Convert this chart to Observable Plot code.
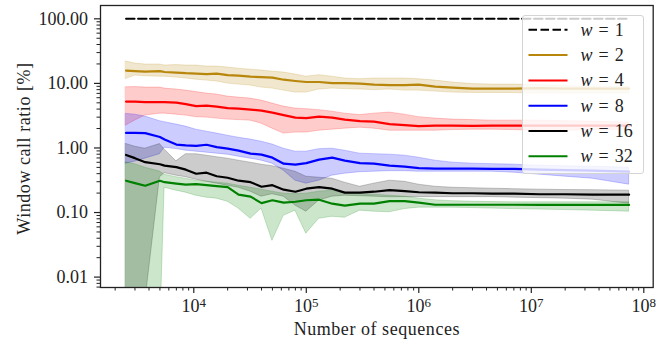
<!DOCTYPE html>
<html><head><meta charset="utf-8">
<script src="https://cdn.jsdelivr.net/npm/d3@7"></script>
<script src="https://cdn.jsdelivr.net/npm/@observablehq/plot@0.6"></script>
<style>
html,body{margin:0;padding:0;background:#fff;}
#wrap{position:relative;width:664px;height:339px;font-family:"Liberation Serif",serif;}
#legend{position:absolute;left:521.5px;top:15px;width:122px;height:158.5px;box-sizing:border-box;background:rgba(255,255,255,0.8);border:1px solid #d4d4d4;border-radius:3px;}
</style></head><body><div id="wrap"></div>
<script>
// Number of sequences (x positions of the sampled points)
const xs = [2500, 3000, 3700, 5000, 5500, 7000, 8500, 10500, 13000, 16000, 20000, 25000, 32000, 40000, 50000, 63000, 80000, 100000, 130000, 170000, 220000, 300000, 400000, 550000, 750000, 1000000, 1400000, 2000000, 3000000, 4500000, 7000000, 12000000, 20000000, 35000000, 74000000];

// w = 1 (constant 100 %)
const w1X = [2500, 74000000];
const w1Y = [100, 100];

// w = 2
const w2 = [15.8, 15.5, 15.2, 15.5, 15.0, 14.7, 14.4, 14.2, 13.9, 14.2, 13.4, 13.2, 12.7, 12.5, 12.3, 11.4, 10.9, 10.5, 10.5, 10.1, 10.1, 9.93, 9.58, 9.41, 9.41, 9.58, 8.92, 8.61, 8.31, 8.31, 8.31, 8.46, 8.31, 8.31, 8.31];
const w2Hi = [21.8, 20.3, 19.6, 19.6, 18.9, 19.2, 18.9, 18.9, 18.2, 18.2, 17.6, 16.9, 16.3, 15.8, 15.2, 14.7, 13.7, 12.7, 13.4, 12.7, 11.9, 11.6, 11.9, 11.9, 11.9, 11.6, 11.05, 10.3, 9.75, 9.58, 9.58, 9.41, 9.08, 8.75, 8.75];
const w2Lo = [11.7, 13.2, 12.9, 12.7, 12.7, 12.3, 11.9, 11.4, 11.05, 10.7, 9.93, 9.58, 9.25, 8.61, 8.31, 7.73, 7.2, 7.2, 8.02, 8.31, 8.16, 8.02, 7.87, 8.02, 7.73, 7.73, 7.46, 7.2, 7.12, 7.12, 7.07, 6.95, 6.95, 6.95, 6.95];

// w = 4
const w4 = [5.22, 5.22, 5.13, 5.13, 5.13, 5.04, 4.78, 4.45, 4.53, 4.37, 4.14, 4.07, 3.92, 3.79, 3.53, 3.23, 2.95, 2.90, 3.06, 2.95, 2.75, 2.60, 2.56, 2.34, 2.26, 2.18, 2.22, 2.22, 2.20, 2.22, 2.21, 2.22, 2.22, 2.21, 2.22];
const w4Hi = [8.70, 8.76, 8.61, 8.61, 8.31, 8.02, 7.73, 7.33, 6.95, 6.71, 6.24, 6.02, 5.81, 5.41, 4.86, 4.37, 4.07, 3.99, 3.85, 3.65, 3.40, 3.23, 3.40, 3.53, 3.28, 3.00, 2.85, 2.75, 2.70, 2.65, 2.65, 2.65, 2.60, 2.56, 2.47];
const w4Lo = [2.22, 2.65, 3.17, 3.40, 3.40, 3.28, 3.17, 3.00, 2.95, 2.85, 2.75, 2.70, 2.65, 2.38, 1.99, 1.67, 1.73, 1.73, 1.85, 1.92, 1.99, 2.06, 1.99, 1.85, 1.85, 1.85, 1.85, 1.89, 1.92, 1.92, 1.89, 1.85, 1.85, 1.89, 1.92];

// w = 8
const w8 = [1.71, 1.71, 1.70, 1.48, 1.35, 1.13, 1.10, 1.08, 1.12, 1.03, 0.975, 0.908, 0.816, 0.787, 0.707, 0.571, 0.551, 0.581, 0.659, 0.707, 0.636, 0.581, 0.571, 0.532, 0.513, 0.486, 0.478, 0.478, 0.478, 0.473, 0.473, 0.461, 0.453, 0.445, 0.429];
const w8Hi = [3.37, 3.28, 3.06, 2.60, 2.51, 2.30, 2.14, 1.92, 1.79, 1.67, 1.55, 1.44, 1.35, 1.25, 1.13, 0.975, 0.876, 0.876, 0.958, 0.975, 0.908, 0.816, 0.802, 0.787, 0.760, 0.707, 0.636, 0.592, 0.571, 0.561, 0.551, 0.532, 0.522, 0.513, 0.495];
const w8Lo = [0.571, 0.613, 0.683, 0.800, 1.01, 0.96, 0.908, 0.876, 0.846, 0.816, 0.787, 0.733, 0.683, 0.636, 0.571, 0.445, 0.311, 0.280, 0.311, 0.372, 0.399, 0.421, 0.429, 0.437, 0.437, 0.429, 0.429, 0.429, 0.429, 0.429, 0.414, 0.385, 0.359, 0.334, 0.270];

// w = 16
const w16 = [0.779, 0.695, 0.602, 0.560, 0.532, 0.504, 0.461, 0.399, 0.414, 0.365, 0.346, 0.311, 0.295, 0.251, 0.265, 0.226, 0.210, 0.234, 0.247, 0.234, 0.203, 0.203, 0.210, 0.222, 0.214, 0.206, 0.203, 0.199, 0.199, 0.196, 0.196, 0.192, 0.192, 0.189, 0.189];
const w16Hi = [1.154, 1.047, 0.975, 1.15, 0.95, 0.62, 0.80, 0.80, 0.760, 0.720, 0.683, 0.636, 0.592, 0.551, 0.522, 0.478, 0.429, 0.359, 0.346, 0.334, 0.290, 0.251, 0.280, 0.311, 0.300, 0.270, 0.251, 0.242, 0.238, 0.234, 0.230, 0.226, 0.223, 0.222, 0.218];
const w16Lo = [0.001, 0.001, 0.004, 0.35, 0.407, 0.372, 0.353, 0.323, 0.300, 0.280, 0.260, 0.242, 0.210, 0.176, 0.192, 0.176, 0.128, 0.103, 0.153, 0.176, 0.182, 0.179, 0.176, 0.172, 0.173, 0.173, 0.173, 0.173, 0.173, 0.173, 0.170, 0.167, 0.164, 0.158, 0.137];

// w = 32
const w32 = [0.311, 0.285, 0.260, 0.310, 0.295, 0.280, 0.270, 0.275, 0.265, 0.256, 0.247, 0.189, 0.176, 0.140, 0.155, 0.142, 0.147, 0.155, 0.158, 0.137, 0.128, 0.137, 0.137, 0.150, 0.150, 0.142, 0.132, 0.132, 0.132, 0.132, 0.132, 0.131, 0.131, 0.131, 0.131];
const w32Hi = [0.600, 0.560, 0.495, 0.430, 0.385, 0.353, 0.334, 0.311, 0.300, 0.290, 0.280, 0.260, 0.242, 0.226, 0.210, 0.196, 0.192, 0.196, 0.210, 0.218, 0.199, 0.194, 0.189, 0.182, 0.176, 0.164, 0.155, 0.150, 0.147, 0.145, 0.144, 0.144, 0.144, 0.144, 0.144];
const w32Lo = [0.001, 0.001, 0.001, 0.001, 0.242, 0.218, 0.203, 0.182, 0.170, 0.164, 0.147, 0.115, 0.080, 0.115, 0.0365, 0.089, 0.107, 0.047, 0.080, 0.086, 0.083, 0.107, 0.103, 0.101, 0.113, 0.119, 0.119, 0.119, 0.117, 0.115, 0.113, 0.111, 0.109, 0.107, 0.103];

// Tick values and labels
const xTicks = [1e4, 1e5, 1e6, 1e7, 1e8];
const yTicks = [0.01, 0.1, 1, 10, 100];
const legendLabels = ["1", "2", "4", "8", "16", "32"];
const colors = ["#000000", "#b8860b", "#ff0000", "#0000ff", "#000000", "#008000"];

const xDomain = [1482, 1.212e8];
const yDomain = [0.0069, 160.8];
const xMinor = [], yMinor = [];
for (let k = 3; k <= 7; k++) for (let m = 2; m <= 9; m++) { const v = m * 10 ** k; if (v >= xDomain[0] && v <= xDomain[1]) xMinor.push(v); }
for (let k = -3; k <= 1; k++) for (let m = 2; m <= 9; m++) { const v = +(m * 10 ** k).toPrecision(3); if (v >= yDomain[0] && v <= yDomain[1]) yMinor.push(v); }

const series = [
  {y: w2, lo: w2Lo, hi: w2Hi, color: colors[1]},
  {y: w4, lo: w4Lo, hi: w4Hi, color: colors[2]},
  {y: w8, lo: w8Lo, hi: w8Hi, color: colors[3]},
  {y: w16, lo: w16Lo, hi: w16Hi, color: colors[4]},
  {y: w32, lo: w32Lo, hi: w32Hi, color: colors[5]}
];
const rows = s => xs.map((x, i) => ({x, y: s.y[i], lo: s.lo[i], hi: s.hi[i]}));
const w1Rows = w1X.map((x, i) => ({x, y: w1Y[i]}));

const FONT = "'Liberation Serif', serif";
const ink = "#222";

const chart = Plot.plot({
  width: 664, height: 339,
  marginLeft: 100, marginRight: 11.3, marginTop: 5, marginBottom: 52,
  x: {type: "log", domain: xDomain},
  y: {type: "log", domain: yDomain},
  style: {fontFamily: FONT, fontSize: "18px", color: ink, background: "white"},
  marks: [
    ...series.map(s => Plot.areaY(rows(s), {x: "x", y1: "lo", y2: "hi", fill: s.color, fillOpacity: 0.2, stroke: s.color, strokeOpacity: 0.2, strokeWidth: 1, clip: true})),
    Plot.lineY(w1Rows, {x: "x", y: "y", stroke: colors[0], strokeWidth: 2, strokeDasharray: "8.5,3.5", clip: true}),
    ...series.map(s => Plot.lineY(rows(s), {x: "x", y: "y", stroke: s.color, strokeWidth: 2.2, strokeLinejoin: "round", clip: true})),
    Plot.axisX({ticks: xMinor, tickSize: 3.5, tickFormat: () => "", stroke: ink, strokeWidth: 1, label: null}),
    Plot.axisX({ticks: xTicks, tickSize: 6, tickPadding: 6, tickFormat: d => "10^" + Math.round(Math.log10(d)), stroke: ink, strokeWidth: 1.2, fill: ink, fontSize: 18, label: null}),
    Plot.axisY({ticks: yMinor, tickSize: 3.5, tickFormat: () => "", stroke: ink, strokeWidth: 1, label: null}),
    Plot.axisY({ticks: yTicks, tickSize: 6, tickPadding: 6.5, tickFormat: d3.format(".2f"), stroke: ink, strokeWidth: 1.2, fill: ink, fontSize: 18, label: null}),
    Plot.frame({stroke: ink, strokeWidth: 1.3}),
    Plot.text(["Window call ratio [%]"], {frameAnchor: "left", dx: -76.5, dy: 2, rotate: -90, textAnchor: "middle", lineAnchor: "middle", fontSize: 18, fill: ink}),
    Plot.text(["Number of sequences"], {frameAnchor: "bottom", dy: 42, textAnchor: "middle", lineAnchor: "middle", fontSize: 18, fill: ink})
  ]
});

// superscript exponents on x tick labels
d3.select(chart).selectAll('g[aria-label="x-axis tick label"] text').each(function () {
  const t = this.textContent;
  if (!t.includes("^")) return;
  const [b, e] = t.split("^");
  const sel = d3.select(this);
  sel.text(b);
  sel.append("tspan").attr("dy", "-0.42em").attr("font-size", "0.72em").text(e);
});
// slightly wider axis-label letter spacing (Computer Modern is wider than Times)
d3.select(chart).selectAll("text").filter(function () {
  return this.textContent === "Window call ratio [%]" || this.textContent === "Number of sequences";
}).attr("letter-spacing", "0.55px");
d3.select(chart).selectAll("text").attr("font-family", FONT);

const wrap = document.getElementById("wrap");
wrap.appendChild(chart);

// legend
const leg = d3.select(wrap).append("div").attr("id", "legend");
const lsvg = leg.append("svg").attr("width", 120).attr("height", 156).style("display", "block").style("overflow", "visible");
legendLabels.forEach((lab, i) => {
  const cy = 13.8 + i * 25.3;
  const g = lsvg.append("g");
  g.append("line").attr("x1", 5.5).attr("x2", 44.5).attr("y1", cy).attr("y2", cy)
    .attr("stroke", colors[i]).attr("stroke-width", 2)
    .attr("stroke-dasharray", i === 0 ? "8.5,3.5" : null);
  const t = g.append("text").attr("x", 57.5).attr("y", cy + 6)
    .attr("font-family", FONT).attr("font-size", 18).attr("fill", ink);
  t.append("tspan").attr("font-style", "italic").text("w");
  t.append("tspan").text("\u2004=\u2004" + lab);
});
</script>
</body></html>
